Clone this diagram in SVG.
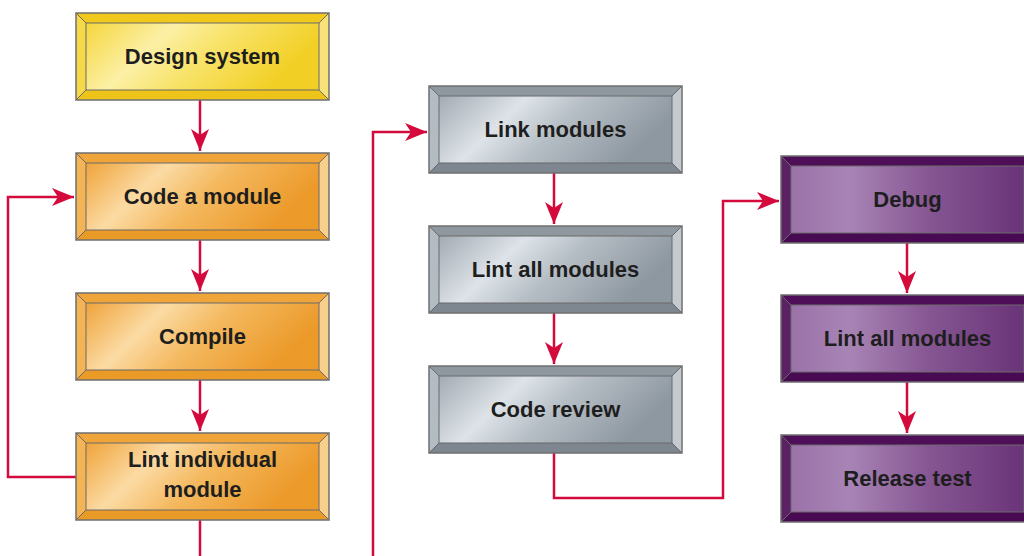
<svg xmlns="http://www.w3.org/2000/svg" width="1024" height="556" viewBox="0 0 1024 556">
<style>
.edge{fill:none;stroke:#6f6f6f;stroke-width:1.5}
.inner{fill:none;stroke:#6a6a6a;stroke-width:1}
.diag{stroke:#6a6a6a;stroke-width:1}
.lbl{font-family:"Liberation Sans",Arial,sans-serif;font-weight:bold;font-size:22px;fill:#1e1e1e;text-anchor:middle}
.conn{fill:none;stroke:#d40a3c;stroke-width:2.5}
.yellow .bt{fill:#f1c81c}.yellow .bl{fill:#f6d948}.yellow .br{fill:#f8e27a}.yellow .bb{fill:#efc41a}.yellow .face{fill:url(#gY)}
.orange .bt{fill:#efa53a}.orange .bl{fill:#f4b456}.orange .br{fill:#f8d08c}.orange .bb{fill:#ea9a26}.orange .face{fill:url(#gO)}
.gray .bt{fill:#8f989f}.gray .bl{fill:#b4bcc3}.gray .br{fill:#c3cad0}.gray .bb{fill:#7e878f}.gray .face{fill:url(#gG)}
.purple .bt{fill:#4e0e58}.purple .bl{fill:#5c2165}.purple .br{fill:#5a1f63}.purple .bb{fill:#480a52}.purple .face{fill:url(#gP)}
</style>
<defs>
<linearGradient id="gY" x1="0" y1="0" x2="1" y2="0.3">
<stop offset="0" stop-color="#f5d63c"/><stop offset="0.35" stop-color="#fcf0a6"/><stop offset="0.6" stop-color="#f8e36a"/><stop offset="1" stop-color="#f2cf24"/>
</linearGradient>
<linearGradient id="gO" x1="0" y1="0" x2="1" y2="0.3">
<stop offset="0" stop-color="#f0a33a"/><stop offset="0.33" stop-color="#fbdba4"/><stop offset="0.6" stop-color="#f4b85e"/><stop offset="1" stop-color="#ec9a2a"/>
</linearGradient>
<linearGradient id="gG" x1="0" y1="0" x2="1" y2="0.3">
<stop offset="0" stop-color="#a3abb3"/><stop offset="0.35" stop-color="#dde3e8"/><stop offset="0.6" stop-color="#b6bec5"/><stop offset="1" stop-color="#8e98a1"/>
</linearGradient>
<linearGradient id="gP" x1="0" y1="0" x2="1" y2="0">
<stop offset="0" stop-color="#9a72a8"/><stop offset="0.25" stop-color="#a884b5"/><stop offset="0.6" stop-color="#855592"/><stop offset="1" stop-color="#6a3478"/>
</linearGradient>
<marker id="ah" markerUnits="userSpaceOnUse" markerWidth="24" markerHeight="20" viewBox="-23 -10 24 20" refX="0" refY="0" orient="auto">
<path d="M0,0 L-22,-9 L-16,0 L-22,9 Z" fill="#d40a3c"/>
</marker>
</defs>

<g id="connectors">
<path class="conn" d="M200,100 V151" marker-end="url(#ah)"/>
<path class="conn" d="M200,240 V291" marker-end="url(#ah)"/>
<path class="conn" d="M200,380 V431" marker-end="url(#ah)"/>
<path class="conn" d="M200,520 V556"/>
<path class="conn" d="M76,477 H8 V197 H74" marker-end="url(#ah)"/>
<path class="conn" d="M373,556 V132 H427" marker-end="url(#ah)"/>
<path class="conn" d="M554,173 V224" marker-end="url(#ah)"/>
<path class="conn" d="M554,313 V364" marker-end="url(#ah)"/>
<path class="conn" d="M554,453 V498 H723 V201 H779" marker-end="url(#ah)"/>
<path class="conn" d="M907,243 V293" marker-end="url(#ah)"/>
<path class="conn" d="M907,382 V433" marker-end="url(#ah)"/>
</g>

<g id="design-system" class="yellow" transform="translate(76,13)">
<rect class="bt" width="253" height="87"/>
<polygon class="bl" points="0,0 10,10 10,77 0,87"/>
<polygon class="br" points="253,0 243,10 243,77 253,87"/>
<polygon class="bb" points="0,87 10,77 243,77 253,87"/>
<rect class="face" x="10" y="10" width="233" height="67"/>
<path class="diag" d="M0,0 L10,10 M253,0 L243,10 M0,87 L10,77 M253,87 L243,77"/>
<rect class="inner" x="10" y="10" width="233" height="67"/>
<rect class="edge" width="253" height="87"/>
<text class="lbl" x="126.5" y="51">Design system</text>
</g>

<g id="code-a-module" class="orange" transform="translate(76,153)">
<rect class="bt" width="253" height="87"/>
<polygon class="bl" points="0,0 10,10 10,77 0,87"/>
<polygon class="br" points="253,0 243,10 243,77 253,87"/>
<polygon class="bb" points="0,87 10,77 243,77 253,87"/>
<rect class="face" x="10" y="10" width="233" height="67"/>
<path class="diag" d="M0,0 L10,10 M253,0 L243,10 M0,87 L10,77 M253,87 L243,77"/>
<rect class="inner" x="10" y="10" width="233" height="67"/>
<rect class="edge" width="253" height="87"/>
<text class="lbl" x="126.5" y="51">Code a module</text>
</g>

<g id="compile" class="orange" transform="translate(76,293)">
<rect class="bt" width="253" height="87"/>
<polygon class="bl" points="0,0 10,10 10,77 0,87"/>
<polygon class="br" points="253,0 243,10 243,77 253,87"/>
<polygon class="bb" points="0,87 10,77 243,77 253,87"/>
<rect class="face" x="10" y="10" width="233" height="67"/>
<path class="diag" d="M0,0 L10,10 M253,0 L243,10 M0,87 L10,77 M253,87 L243,77"/>
<rect class="inner" x="10" y="10" width="233" height="67"/>
<rect class="edge" width="253" height="87"/>
<text class="lbl" x="126.5" y="51">Compile</text>
</g>

<g id="lint-individual-module" class="orange" transform="translate(76,433)">
<rect class="bt" width="253" height="87"/>
<polygon class="bl" points="0,0 10,10 10,77 0,87"/>
<polygon class="br" points="253,0 243,10 243,77 253,87"/>
<polygon class="bb" points="0,87 10,77 243,77 253,87"/>
<rect class="face" x="10" y="10" width="233" height="67"/>
<path class="diag" d="M0,0 L10,10 M253,0 L243,10 M0,87 L10,77 M253,87 L243,77"/>
<rect class="inner" x="10" y="10" width="233" height="67"/>
<rect class="edge" width="253" height="87"/>
<text class="lbl" x="126.5" y="34">Lint individual</text>
<text class="lbl" x="126.5" y="64">module</text>
</g>

<g id="link-modules" class="gray" transform="translate(429,86)">
<rect class="bt" width="253" height="87"/>
<polygon class="bl" points="0,0 10,10 10,77 0,87"/>
<polygon class="br" points="253,0 243,10 243,77 253,87"/>
<polygon class="bb" points="0,87 10,77 243,77 253,87"/>
<rect class="face" x="10" y="10" width="233" height="67"/>
<path class="diag" d="M0,0 L10,10 M253,0 L243,10 M0,87 L10,77 M253,87 L243,77"/>
<rect class="inner" x="10" y="10" width="233" height="67"/>
<rect class="edge" width="253" height="87"/>
<text class="lbl" x="126.5" y="51">Link modules</text>
</g>

<g id="lint-all-modules-1" class="gray" transform="translate(429,226)">
<rect class="bt" width="253" height="87"/>
<polygon class="bl" points="0,0 10,10 10,77 0,87"/>
<polygon class="br" points="253,0 243,10 243,77 253,87"/>
<polygon class="bb" points="0,87 10,77 243,77 253,87"/>
<rect class="face" x="10" y="10" width="233" height="67"/>
<path class="diag" d="M0,0 L10,10 M253,0 L243,10 M0,87 L10,77 M253,87 L243,77"/>
<rect class="inner" x="10" y="10" width="233" height="67"/>
<rect class="edge" width="253" height="87"/>
<text class="lbl" x="126.5" y="51">Lint all modules</text>
</g>

<g id="code-review" class="gray" transform="translate(429,366)">
<rect class="bt" width="253" height="87"/>
<polygon class="bl" points="0,0 10,10 10,77 0,87"/>
<polygon class="br" points="253,0 243,10 243,77 253,87"/>
<polygon class="bb" points="0,87 10,77 243,77 253,87"/>
<rect class="face" x="10" y="10" width="233" height="67"/>
<path class="diag" d="M0,0 L10,10 M253,0 L243,10 M0,87 L10,77 M253,87 L243,77"/>
<rect class="inner" x="10" y="10" width="233" height="67"/>
<rect class="edge" width="253" height="87"/>
<text class="lbl" x="126.5" y="51">Code review</text>
</g>

<g id="debug" class="purple" transform="translate(781,156)">
<rect class="bt" width="253" height="87"/>
<polygon class="bl" points="0,0 10,10 10,77 0,87"/>
<polygon class="br" points="253,0 243,10 243,77 253,87"/>
<polygon class="bb" points="0,87 10,77 243,77 253,87"/>
<rect class="face" x="10" y="10" width="233" height="67"/>
<path class="diag" d="M0,0 L10,10 M253,0 L243,10 M0,87 L10,77 M253,87 L243,77"/>
<rect class="inner" x="10" y="10" width="233" height="67"/>
<rect class="edge" width="253" height="87"/>
<text class="lbl" x="126.5" y="51">Debug</text>
</g>

<g id="lint-all-modules-2" class="purple" transform="translate(781,295)">
<rect class="bt" width="253" height="87"/>
<polygon class="bl" points="0,0 10,10 10,77 0,87"/>
<polygon class="br" points="253,0 243,10 243,77 253,87"/>
<polygon class="bb" points="0,87 10,77 243,77 253,87"/>
<rect class="face" x="10" y="10" width="233" height="67"/>
<path class="diag" d="M0,0 L10,10 M253,0 L243,10 M0,87 L10,77 M253,87 L243,77"/>
<rect class="inner" x="10" y="10" width="233" height="67"/>
<rect class="edge" width="253" height="87"/>
<text class="lbl" x="126.5" y="51">Lint all modules</text>
</g>

<g id="release-test" class="purple" transform="translate(781,435)">
<rect class="bt" width="253" height="87"/>
<polygon class="bl" points="0,0 10,10 10,77 0,87"/>
<polygon class="br" points="253,0 243,10 243,77 253,87"/>
<polygon class="bb" points="0,87 10,77 243,77 253,87"/>
<rect class="face" x="10" y="10" width="233" height="67"/>
<path class="diag" d="M0,0 L10,10 M253,0 L243,10 M0,87 L10,77 M253,87 L243,77"/>
<rect class="inner" x="10" y="10" width="233" height="67"/>
<rect class="edge" width="253" height="87"/>
<text class="lbl" x="126.5" y="51">Release test</text>
</g>
</svg>
